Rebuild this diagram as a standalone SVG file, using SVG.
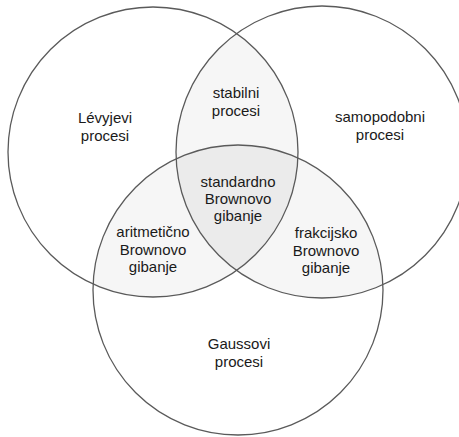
<svg xmlns="http://www.w3.org/2000/svg" width="459" height="437" viewBox="0 0 459 437">
<style>
.c{fill:none;stroke:#5a5a5a;stroke-width:1.3}
.t{font-family:"Liberation Sans",Arial,sans-serif;font-size:15px;fill:#1a1a1a;text-anchor:middle}
</style>
<defs>
<clipPath id="cL"><circle cx="153" cy="152" r="145"/></clipPath>
<clipPath id="cR"><circle cx="322" cy="152" r="146"/></clipPath>
<clipPath id="cB"><circle cx="238" cy="290" r="145"/></clipPath>
</defs>
<rect width="459" height="437" fill="#ffffff"/>
<g id="fills">
<g clip-path="url(#cL)"><circle cx="322" cy="152" r="146" fill="#f6f6f6"/><circle cx="238" cy="290" r="145" fill="#f6f6f6"/></g>
<g clip-path="url(#cR)"><circle cx="238" cy="290" r="145" fill="#f6f6f6"/></g>
<g clip-path="url(#cL)"><g clip-path="url(#cR)"><circle cx="238" cy="290" r="145" fill="#ebebeb"/></g></g>
</g>
<g id="levy"><circle class="c" cx="153" cy="152" r="145"/><text class="t" x="105" y="123">Lévyjevi</text><text class="t" x="105" y="141">procesi</text></g>
<g id="samopodobni"><circle class="c" cx="322" cy="152" r="146"/><text class="t" x="380" y="122">samopodobni</text><text class="t" x="380" y="140">procesi</text></g>
<g id="gauss"><circle class="c" cx="238" cy="290" r="145"/><text class="t" x="239" y="349">Gaussovi</text><text class="t" x="239" y="367">procesi</text></g>
<g id="stabilni"><text class="t" x="236" y="98">stabilni</text><text class="t" x="236" y="116">procesi</text></g>
<g id="standardno"><text class="t" x="238" y="187">standardno</text><text class="t" x="238" y="204">Brownovo</text><text class="t" x="238" y="221">gibanje</text></g>
<g id="aritmeticno"><text class="t" x="153" y="237">aritmetično</text><text class="t" x="153" y="255">Brownovo</text><text class="t" x="153" y="272">gibanje</text></g>
<g id="frakcijsko"><text class="t" x="326" y="238">frakcijsko</text><text class="t" x="326" y="256">Brownovo</text><text class="t" x="326" y="273">gibanje</text></g>
<g id="connectors"></g>
</svg>
